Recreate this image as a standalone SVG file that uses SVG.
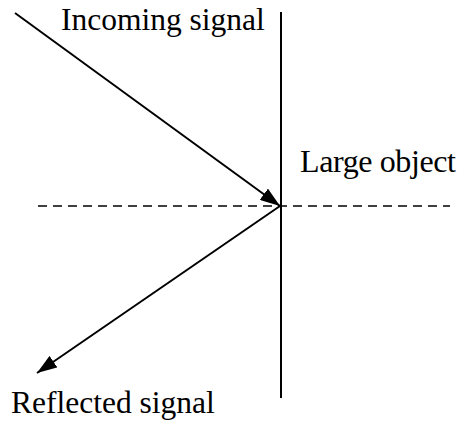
<svg xmlns="http://www.w3.org/2000/svg" width="464" height="424" viewBox="0 0 464 424">
<style>
.ln{stroke:#000;stroke-width:2;fill:none}
</style>
<defs>
<marker id="ah" viewBox="0 0 20 14" refX="20" refY="7" markerWidth="20" markerHeight="14" markerUnits="userSpaceOnUse" orient="auto">
<path d="M0,0 L20,7 L0,14 Z" fill="#000"/>
</marker>
</defs>
<g id="object">
<line class="ln" x1="281" y1="12" x2="281" y2="398"/>
<text x="300" y="172" font-family="Liberation Serif" font-size="32" textLength="156">Large object</text>
</g>
<g id="axis">
<line x1="38" y1="206" x2="450" y2="206" stroke="#000" stroke-width="1.5" stroke-dasharray="9,6"/>
</g>
<g id="incoming-label"><text x="61" y="30" font-family="Liberation Serif" font-size="31.5">Incoming signal</text></g>
<g id="reflected-label"><text x="11" y="413" font-family="Liberation Serif" font-size="31.5">Reflected signal</text></g>
<g id="connectors">
<line class="ln" x1="15" y1="13" x2="280" y2="206" marker-end="url(#ah)"/>
<line class="ln" x1="280" y1="206" x2="37" y2="373" marker-end="url(#ah)"/>
</g>
</svg>
